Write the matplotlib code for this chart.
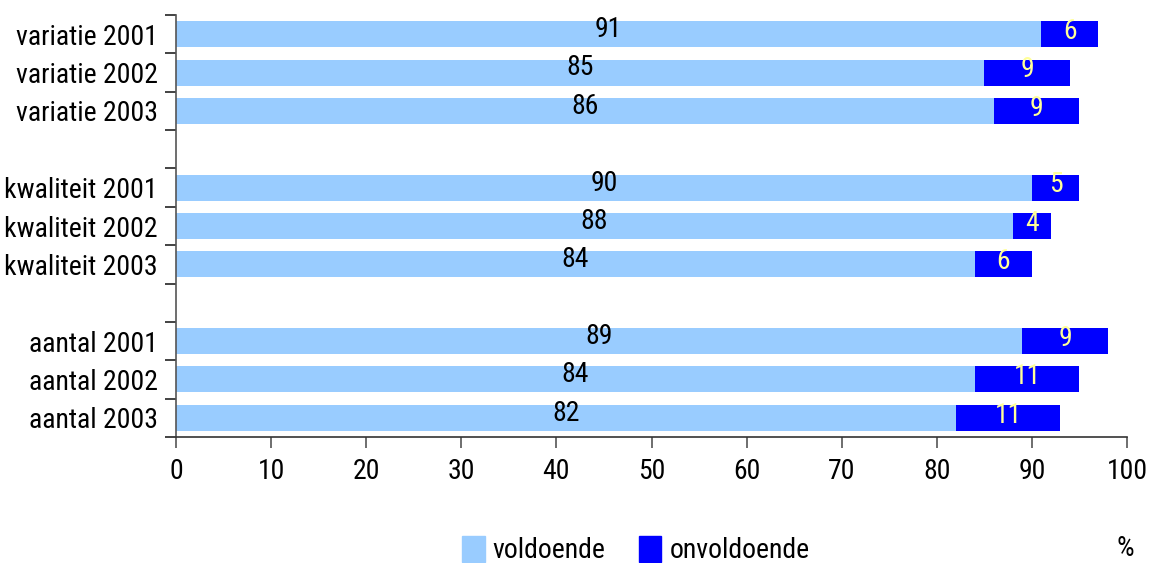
import numpy as np
import matplotlib.pyplot as plt
from matplotlib.font_manager import fontManager
from matplotlib.patches import Patch

# --- data ---
categories = ['variatie 2001', 'variatie 2002', 'variatie 2003', '',
              'kwaliteit 2001', 'kwaliteit 2002', 'kwaliteit 2003', '',
              'aantal 2001', 'aantal 2002', 'aantal 2003']
voldoende = [91, 85, 86, None, 90, 88, 84, None, 89, 84, 82]
onvoldoende = [6, 9, 9, None, 5, 4, 6, None, 9, 11, 11]
xticks = [0, 10, 20, 30, 40, 50, 60, 70, 80, 90, 100]

names = {f.name for f in fontManager.ttflist}
font = 'Liberation Sans'
for cand in ['Liberation Sans Narrow', 'Arial Narrow', 'Roboto Condensed']:
    if cand in names:
        font = cand
        break
plt.rcParams['font.family'] = [font, 'DejaVu Sans']
fs = 20

light = '#99ccff'
dark = '#0000ff'
label_col = '#ffff99'

fig = plt.figure(figsize=(11.51, 5.63), dpi=100)
ax = fig.add_axes([176 / 1151, 1 - 437 / 563, (1127 - 176) / 1151, (437 - 15) / 563])

for i, (v, o) in enumerate(zip(voldoende, onvoldoende)):
    if v is None:
        continue
    ax.barh(i, v, height=0.68, color=light)
    ax.barh(i, o, left=v, height=0.68, color=dark)
    ax.text(v / 2, i - 0.12, str(v), ha='center', va='center', fontsize=fs, color='black')
    ax.text(v + o / 2, i - 0.07, str(o), ha='center', va='center', fontsize=fs, color=label_col)

ax.set_xlim(0, 100)
ax.set_ylim(len(categories) - 0.5, -0.5)
ax.set_xticks(xticks)
ax.set_xticklabels([str(t) for t in xticks], fontsize=fs)
ax.tick_params(axis='x', length=8, width=1.2, color='#555555', pad=7)

ax.set_yticks([i for i, c in enumerate(categories) if c])
ax.set_yticklabels([c for c in categories if c], fontsize=fs)
ax.set_yticks(np.arange(-0.5, len(categories)), minor=True)
ax.tick_params(axis='y', which='major', length=0, pad=13)
ax.tick_params(axis='y', which='minor', length=8, width=1.2, color='#222222')

for s in ['top', 'right']:
    ax.spines[s].set_visible(False)
ax.spines['left'].set_color('#555555')
ax.spines['bottom'].set_color('#333333')
ax.spines['left'].set_linewidth(1.2)
ax.spines['bottom'].set_linewidth(1.2)

handles = [Patch(color=light, label='voldoende'), Patch(color=dark, label='onvoldoende')]
fig.legend(handles=handles, loc='center', bbox_to_anchor=(636 / 1151, 1 - 550 / 563),
           ncol=2, frameon=False, fontsize=fs, handlelength=0.8, handleheight=1.1,
           handletextpad=0.3, columnspacing=1.2)
fig.text(1125 / 1151, 1 - 548 / 563, '%', ha='center', va='center', fontsize=fs)

fig.savefig('out.png', dpi=100)
